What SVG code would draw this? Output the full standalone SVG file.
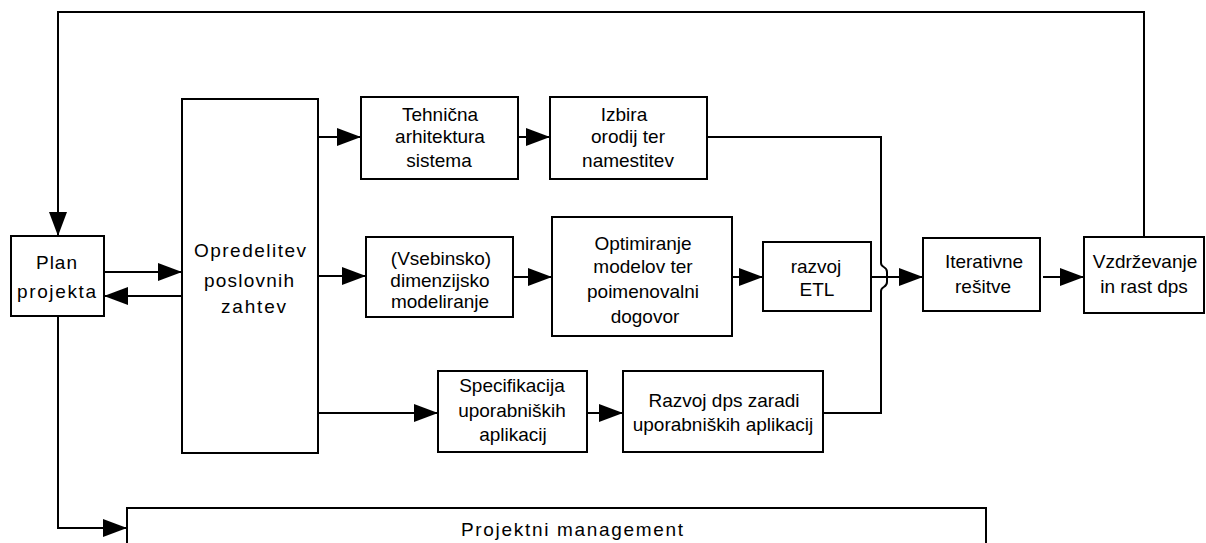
<svg xmlns="http://www.w3.org/2000/svg" width="1206" height="543" viewBox="0 0 1206 543">
  <style>
    .box { fill: #fff; stroke: #000; stroke-width: 2; }
    .wire { fill: none; stroke: #000; stroke-width: 2; }
    .arrow { fill: none; stroke: #000; stroke-width: 2; marker-end: url(#head); }
    text { font-family: "Liberation Sans", Arial, sans-serif; font-size: 19px; fill: #000; }
    .c { text-anchor: middle; }
  </style>
  <defs>
    <marker id="head" markerUnits="userSpaceOnUse" markerWidth="25" markerHeight="18" refX="24" refY="9" orient="auto">
      <path d="M0,0 L24,9 L0,18 Z" fill="#000"/>
    </marker>
  </defs>
  <rect width="1206" height="543" fill="#fff"/>

  <!-- connectors -->
  <g id="connectors">
    <!-- feedback loop from maintenance back to the plan -->
    <path class="arrow" d="M1144,237 V12 H58 V236"/>
    <!-- plan to project management -->
    <path class="arrow" d="M58,316 V528 H127"/>
    <!-- plan <-> requirements -->
    <path class="arrow" d="M104,272 H182"/>
    <path class="arrow" d="M182,296 H104"/>
    <!-- requirements to the three tracks -->
    <path class="arrow" d="M318,137 H361"/>
    <path class="arrow" d="M318,276 H366"/>
    <path class="arrow" d="M314,413 H438"/>
    <!-- technical track -->
    <path class="arrow" d="M518,137 H550"/>
    <!-- data track -->
    <path class="arrow" d="M513,277 H552"/>
    <path class="arrow" d="M732,277 H763"/>
    <!-- application track -->
    <path class="arrow" d="M587,413 H623"/>
    <!-- merge line with a jump over the ETL connector -->
    <path class="wire" d="M707,137 H881 V263 C881,268 887,266 887,272 V282 C887,288 881,286 881,291 V413 H823"/>
    <path class="arrow" d="M871,277 H923"/>
    <path class="arrow" d="M1043,277 H1084"/>
  </g>

  <g id="plan">
    <rect class="box" x="11" y="236" width="93" height="80"/>
    <text x="36" y="269" textLength="41" lengthAdjust="spacing">Plan</text>
    <text x="17" y="298" textLength="79" lengthAdjust="spacing">projekta</text>
  </g>

  <g id="opredelitev">
    <rect class="box" x="182" y="99" width="136" height="354"/>
    <text x="194" y="257" textLength="112" lengthAdjust="spacing">Opredelitev</text>
    <text x="204" y="287" textLength="90" lengthAdjust="spacing">poslovnih</text>
    <text x="221" y="313" textLength="65" lengthAdjust="spacing">zahtev</text>
  </g>

  <g id="tehnicna">
    <rect class="box" x="361" y="97" width="157" height="82"/>
    <text class="c" x="440" y="121">Tehnična</text>
    <text class="c" x="440" y="143">arhitektura</text>
    <text class="c" x="439" y="167">sistema</text>
  </g>

  <g id="izbira">
    <rect class="box" x="550" y="97" width="157" height="82"/>
    <text class="c" x="624" y="121">Izbira</text>
    <text class="c" x="628" y="143">orodij ter</text>
    <text class="c" x="628" y="167">namestitev</text>
  </g>

  <g id="vsebinsko">
    <rect class="box" x="366" y="237" width="147" height="80"/>
    <text class="c" x="441" y="265">(Vsebinsko)</text>
    <text class="c" x="440" y="287">dimenzijsko</text>
    <text class="c" x="440" y="308">modeliranje</text>
  </g>

  <g id="optimiranje">
    <rect class="box" x="552" y="217" width="180" height="119"/>
    <text class="c" x="643" y="250">Optimiranje</text>
    <text class="c" x="643" y="273">modelov ter</text>
    <text class="c" x="643" y="298">poimenovalni</text>
    <text class="c" x="645" y="323">dogovor</text>
  </g>

  <g id="etl">
    <rect class="box" x="763" y="242" width="108" height="69"/>
    <text class="c" x="816" y="273">razvoj</text>
    <text class="c" x="817" y="296">ETL</text>
  </g>

  <g id="iterativne">
    <rect class="box" x="923" y="238" width="117" height="73"/>
    <text class="c" x="984" y="268">Iterativne</text>
    <text class="c" x="983" y="293">rešitve</text>
  </g>

  <g id="vzdrzevanje">
    <rect class="box" x="1084" y="237" width="120" height="76"/>
    <text class="c" x="1145" y="268">Vzdrževanje</text>
    <text class="c" x="1144" y="293">in rast dps</text>
  </g>

  <g id="specifikacija">
    <rect class="box" x="438" y="371" width="149" height="81"/>
    <text class="c" x="512" y="392">Specifikacija</text>
    <text class="c" x="512" y="417">uporabniških</text>
    <text class="c" x="513" y="441">aplikacij</text>
  </g>

  <g id="razvoj-dps">
    <rect class="box" x="623" y="371" width="200" height="81"/>
    <text class="c" x="724" y="407">Razvoj dps zaradi</text>
    <text class="c" x="723" y="431">uporabniških aplikacij</text>
  </g>

  <g id="projektni-management">
    <rect class="box" x="127" y="508" width="859" height="60"/>
    <text x="461" y="536" textLength="222" lengthAdjust="spacing">Projektni management</text>
  </g>
</svg>
